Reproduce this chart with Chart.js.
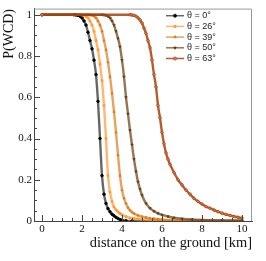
<!DOCTYPE html>
<html>
<head>
<meta charset="utf-8">
<script src="https://cdn.jsdelivr.net/npm/chart.js@4"></script>
<style>
  html, body { margin: 0; padding: 0; background: #fff; }
</style>
</head>
<body>
<canvas id="c" width="266" height="261"></canvas>
<script>
// Series labels, axis titles and tick labels
const seriesLabels = ['θ = 0°', 'θ = 26°', 'θ = 39°', 'θ = 50°', 'θ = 63°'];
const xTitle = 'distance on the ground [km]';
const yTitle = 'P(WCD)';
const xTicks = [0, 2, 4, 6, 8, 10];
const yTicks = [0, 0.2, 0.4, 0.6, 0.8, 1];

// θ = 0°
const dist0 = [0, 1.6, 1.7, 1.8, 1.9, 2.0, 2.1, 2.2, 2.3, 2.4, 2.5, 2.6, 2.7, 2.8, 2.9, 3.0, 3.1, 3.2, 3.3, 3.4, 3.5, 3.6, 3.7, 3.8, 3.9, 4.0, 4.2, 4.5, 10];
const prob0 = [1, 1, 0.999, 0.997, 0.993, 0.985, 0.97, 0.95, 0.915, 0.875, 0.835, 0.78, 0.71, 0.58, 0.40, 0.22, 0.13, 0.085, 0.06, 0.045, 0.033, 0.025, 0.018, 0.012, 0.007, 0.004, 0.001, 0, 0];

// θ = 26°
const dist26 = [0, 1.9, 2.0, 2.1, 2.2, 2.3, 2.4, 2.5, 2.6, 2.7, 2.8, 2.9, 3.0, 3.1, 3.2, 3.3, 3.4, 3.5, 3.6, 3.7, 3.8, 3.9, 4.0, 4.2, 4.4, 4.6, 4.8, 5.0, 5.5, 6.0, 7.0, 8.0, 10];
const prob26 = [1, 1, 0.999, 0.997, 0.993, 0.985, 0.97, 0.95, 0.92, 0.875, 0.83, 0.76, 0.68, 0.56, 0.40, 0.22, 0.14, 0.095, 0.068, 0.054, 0.044, 0.036, 0.03, 0.021, 0.015, 0.012, 0.01, 0.008, 0.005, 0.003, 0.001, 0, 0];

// θ = 39°
const dist39 = [0, 2.3, 2.4, 2.5, 2.6, 2.7, 2.8, 2.9, 3.0, 3.1, 3.2, 3.3, 3.4, 3.5, 3.6, 3.7, 3.8, 3.9, 4.0, 4.1, 4.2, 4.3, 4.4, 4.5, 4.6, 4.8, 5.0, 5.2, 5.4, 5.6, 5.8, 6.0, 6.5, 7.0, 8.0, 9.0, 10];
const prob39 = [1, 1, 0.999, 0.997, 0.993, 0.985, 0.97, 0.95, 0.92, 0.875, 0.83, 0.77, 0.70, 0.62, 0.53, 0.43, 0.32, 0.22, 0.15, 0.11, 0.085, 0.065, 0.052, 0.043, 0.036, 0.027, 0.021, 0.017, 0.013, 0.011, 0.009, 0.007, 0.004, 0.002, 0.001, 0, 0];

// θ = 50°
const dist50 = [0, 3.0, 3.1, 3.2, 3.3, 3.4, 3.5, 3.6, 3.7, 3.8, 3.9, 4.0, 4.1, 4.2, 4.3, 4.4, 4.5, 4.6, 4.7, 4.8, 4.9, 5.0, 5.2, 5.4, 5.6, 5.8, 6.0, 6.3, 6.6, 7.0, 7.5, 8.0, 9.0, 10];
const prob50 = [1, 1, 0.999, 0.997, 0.993, 0.985, 0.97, 0.95, 0.92, 0.885, 0.845, 0.78, 0.70, 0.60, 0.52, 0.44, 0.37, 0.30, 0.24, 0.19, 0.155, 0.125, 0.085, 0.062, 0.047, 0.037, 0.03, 0.022, 0.016, 0.011, 0.007, 0.005, 0.003, 0.002];

// θ = 63°
const dist63 = [0, 4.4, 4.5, 4.6, 4.7, 4.8, 4.9, 5.0, 5.1, 5.2, 5.3, 5.4, 5.5, 5.6, 5.7, 5.8, 5.9, 6.0, 6.1, 6.2, 6.3, 6.4, 6.6, 6.8, 7.0, 7.2, 7.4, 7.6, 7.8, 8.0, 8.2, 8.4, 8.6, 8.8, 9.0, 9.2, 9.4, 9.6, 9.8, 10];
const prob63 = [1, 1, 0.999, 0.997, 0.993, 0.985, 0.975, 0.96, 0.935, 0.91, 0.875, 0.84, 0.78, 0.71, 0.65, 0.56, 0.50, 0.43, 0.375, 0.33, 0.30, 0.275, 0.235, 0.20, 0.175, 0.15, 0.13, 0.11, 0.095, 0.082, 0.07, 0.062, 0.053, 0.045, 0.038, 0.032, 0.027, 0.022, 0.018, 0.014];

const allDist = [dist0, dist26, dist39, dist50, dist63];
const allProb = [prob0, prob26, prob39, prob50, prob63];

const pointColors = ['#000000', '#ff9933', '#dd7a1c', '#6a3a0c', '#ad430f'];
const lineColors = ['rgba(0,0,0,0.6)', 'rgba(255,153,51,0.7)', 'rgba(221,122,28,0.7)', 'rgba(106,58,12,0.7)', 'rgba(168,64,12,0.85)'];
const pointFills = ['#000000', '#ff9933', '#dd7a1c', '#6a3a0c', '#d08a60'];
const pointStyles = ['circle', 'rect', 'triangle', 'triangle', 'circle'];
const pointRotations = [0, 0, 0, 180, 0];

const serif = '"Liberation Serif", "Times New Roman", serif';

const datasets = seriesLabels.map((label, i) => ({
    label: label,
    data: allDist[i].map((x, j) => ({ x: x, y: allProb[i][j] })),
    borderColor: lineColors[i],
    borderWidth: 2.4,
    backgroundColor: pointFills[i],
    pointBackgroundColor: pointFills[i],
    pointBorderColor: pointColors[i],
    pointBorderWidth: 0.8,
    pointRadius: 1.3,
    pointStyle: pointStyles[i],
    rotation: pointRotations[i],
    cubicInterpolationMode: 'monotone',
    order: 5 - i
}));

// ROOT-like frame: inward ticks, grey top/right border, y title, legend in the corner
const rootFrame = {
    id: 'rootFrame',
    afterDraw(chart) {
        const ctx = chart.ctx;
        const area = chart.chartArea;
        const xs = chart.scales.x;
        const ys = chart.scales.y;
        ctx.save();
        ctx.strokeStyle = '#999';
        ctx.lineWidth = 1;
        ctx.beginPath();
        ctx.moveTo(area.left, area.top + 0.5);
        ctx.lineTo(area.right - 0.5, area.top + 0.5);
        ctx.lineTo(area.right - 0.5, area.bottom);
        ctx.stroke();

        ctx.strokeStyle = '#444';
        ctx.beginPath();
        for (let v = 0; v <= 10.001; v += 0.5) {
            const px = Math.round(xs.getPixelForValue(v)) + 0.5;
            const len = xTicks.includes(Math.round(v * 10) / 10) ? 6 : 3;
            ctx.moveTo(px, area.bottom);
            ctx.lineTo(px, area.bottom - len);
        }
        for (let v = 0; v <= 1.001; v += 0.05) {
            const py = Math.round(ys.getPixelForValue(v)) + 0.5;
            const major = yTicks.some(t => Math.abs(t - v) < 1e-6);
            ctx.moveTo(area.left, py);
            ctx.lineTo(area.left + (major ? 6 : 3), py);
        }
        ctx.stroke();

        // y axis title, rotated, flush with the top
        ctx.save();
        ctx.translate(9, 9);
        ctx.rotate(-Math.PI / 2);
        ctx.fillStyle = '#111';
        ctx.font = '14px ' + serif;
        ctx.textAlign = 'right';
        ctx.textBaseline = 'middle';
        ctx.fillText(yTitle, 0, 0);
        ctx.restore();

        // legend
        chart.data.datasets.forEach((ds, i) => {
            const y = 15.7 + i * 10.7;
            ctx.strokeStyle = ds.borderColor;
            ctx.lineWidth = 1.5;
            ctx.beginPath();
            ctx.moveTo(166, y);
            ctx.lineTo(184, y);
            ctx.stroke();
            ctx.fillStyle = ds.pointBackgroundColor;
            ctx.strokeStyle = ds.pointBorderColor;
            ctx.lineWidth = ds.pointBorderWidth;
            Chart.helpers.drawPoint(ctx, {
                pointStyle: ds.pointStyle,
                rotation: ds.rotation,
                radius: 1.5,
                borderWidth: ds.pointBorderWidth
            }, 175, y);
            ctx.fillStyle = '#222';
            ctx.font = '9px "Liberation Sans", Arial, sans-serif';
            ctx.textBaseline = 'middle';
            ctx.textAlign = 'left';
            ctx.fillText(ds.label, 187, y);
        });
        ctx.restore();
    }
};

new Chart(document.getElementById('c'), {
    type: 'line',
    data: { datasets: datasets },
    options: {
        responsive: false,
        animation: false,
        layout: { padding: { top: 5, right: 14, left: 0, bottom: 0 } },
        plugins: {
            legend: { display: false },
            tooltip: { enabled: false }
        },
        scales: {
            x: {
                type: 'linear',
                min: -0.4,
                max: 10.5,
                afterBuildTicks: s => { s.ticks = xTicks.map(v => ({ value: v })); },
                afterFit: s => { s.height = 40; },
                grid: { display: false, drawTicks: false },
                border: { display: true, color: '#444', width: 1 },
                ticks: {
                    padding: 2,
                    color: '#111',
                    maxRotation: 0,
                    font: { family: serif, size: 11 }
                },
                title: {
                    display: true,
                    text: xTitle,
                    align: 'end',
                    color: '#111',
                    padding: { top: 0, bottom: 9 },
                    font: { family: serif, size: 14.4 }
                }
            },
            y: {
                min: 0,
                max: 1.03,
                afterBuildTicks: s => { s.ticks = yTicks.map(v => ({ value: v })); },
                afterFit: s => { s.width = 34; },
                grid: { display: false, drawTicks: false },
                border: { display: true, color: '#444', width: 1 },
                ticks: {
                    padding: 2,
                    color: '#111',
                    callback: v => String(v),
                    font: { family: serif, size: 11 }
                }
            }
        }
    },
    plugins: [rootFrame]
});
</script>
</body>
</html>
